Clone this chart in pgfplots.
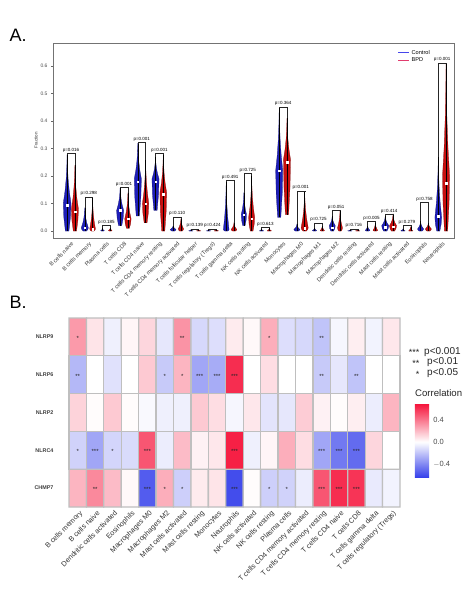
\documentclass[border=0pt]{standalone}
\usepackage{fontspec}
\setmainfont{Liberation Sans}
\usepackage{pgfplots}
\usepackage{pgfplotstable}
\pgfplotsset{compat=1.18}
\definecolor{ctrl}{RGB}{30,30,185}
\definecolor{bpd}{RGB}{200,15,15}
\definecolor{ctrlleg}{RGB}{70,70,235}
\definecolor{bpdleg}{RGB}{225,60,110}
\newcommand\fs[1]{\fontsize{#1}{#1}\selectfont}

% violin: xc, bottom, mode, top, halfwidth, colour
\newcommand\violin[6]{%
 \pgfmathsetmacro\vyA{#2+0.5*(#3-#2)}%
 \pgfmathsetmacro\vyB{#3+0.25*(#4-#3)}%
 \pgfmathsetmacro\vyC{#3+0.5*(#4-#3)}%
 \pgfmathsetmacro\vyD{#3+0.75*(#4-#3)}%
 \pgfmathsetmacro\vra{#1+0.45*#5}\pgfmathsetmacro\vla{#1-0.45*#5}%
 \pgfmathsetmacro\vrb{#1+0.85*#5}\pgfmathsetmacro\vlb{#1-0.85*#5}%
 \pgfmathsetmacro\vrc{#1+#5}\pgfmathsetmacro\vlc{#1-#5}%
 \pgfmathsetmacro\vrd{#1+0.55*#5}\pgfmathsetmacro\vld{#1-0.55*#5}%
 \pgfmathsetmacro\vre{#1+0.25*#5}\pgfmathsetmacro\vle{#1-0.25*#5}%
 \pgfmathsetmacro\vrf{#1+0.08*#5}\pgfmathsetmacro\vlf{#1-0.08*#5}%
 \edef\vtmp{\noexpand\addplot[forget plot, fill=#6, draw=#6!60!black, line width=0.25pt] coordinates {(\vla,#2) (\vra,#2) (\vrb,\vyA) (\vrc,#3) (\vrd,\vyB) (\vre,\vyC) (\vrf,\vyD) (#1,#4) (\vlf,\vyD) (\vle,\vyC) (\vld,\vyB) (\vlc,#3) (\vlb,\vyA) (\vla,#2)};
 \noexpand\addplot[forget plot, black, line width=0.35pt] coordinates {(#1,#2) (#1,#4)};}%
 \vtmp
}
% bracket: x, height, top of control, top of BPD
\newcommand\bracket[4]{%
 \pgfmathsetmacro\bl{#1-0.22}\pgfmathsetmacro\br{#1+0.22}%
 \edef\btmp{\noexpand\addplot[forget plot, black!85, line width=0.3pt] coordinates {(\bl,#3) (\bl,#2) (\br,#2) (\br,#4)};}\btmp}

\pgfplotstableread{
x y s
0 0.282 p=0.016
1 0.125 p=0.298
2 0.020 p=0.185
3 0.160 p=0.001
4 0.322 p=0.001
5 0.282 p=0.001
6 0.052 p=0.110
7 0.008 p=0.139
8 0.008 p=0.424
9 0.185 p=0.491
10 0.210 p=0.725
11 0.015 p=0.613
12 0.452 p=0.364
13 0.147 p=0.001
14 0.030 p=0.725
15 0.077 p=0.051
16 0.008 p=0.716
17 0.035 p=0.005
18 0.062 p=0.414
19 0.020 p=0.279
20 0.105 p=0.758
21 0.612 p=0.001
}\ptab

\pgfplotstableread{
x y
-0.22 0.095
0.78 0.012
2.78 0.075
3.78 0.180
4.78 0.180
9.78 0.060
11.78 0.220
14.78 0.012
17.78 0.015
20.78 0.055
0.22 0.070
1.22 0.008
3.22 0.045
4.22 0.100
5.22 0.135
10.22 0.045
12.22 0.250
13.22 0.010
18.22 0.016
21.22 0.175
}\medtab

\pgfplotstableread{
x y c
0 0 0.30
1 0 0.08
2 0 -0.05
3 0 0.03
4 0 0.12
5 0 -0.08
6 0 0.32
7 0 -0.13
8 0 -0.11
9 0 0.06
10 0 0.02
11 0 0.24
12 0 -0.11
13 0 -0.13
14 0 -0.20
15 0 -0.03
16 0 0.05
17 0 -0.04
18 0 0.07
0 1 -0.24
1 1 0.00
2 1 -0.10
3 1 0.00
4 1 0.16
5 1 -0.18
6 1 0.22
7 1 -0.30
8 1 -0.28
9 1 0.62
10 1 0.00
11 1 0.10
12 1 0.00
13 1 0.00
14 1 -0.18
15 1 -0.08
16 1 -0.20
17 1 0.00
18 1 0.00
0 2 0.13
1 2 0.01
2 2 0.16
3 2 0.01
4 2 -0.02
5 2 -0.05
6 2 -0.05
7 2 0.16
8 2 0.10
9 2 -0.03
10 2 0.07
11 2 -0.09
12 2 -0.08
13 2 0.15
14 2 0.04
15 2 0.01
16 2 0.05
17 2 -0.06
18 2 0.22
0 3 -0.15
1 3 -0.30
2 3 -0.14
3 3 -0.12
4 3 0.50
5 3 -0.06
6 3 0.20
7 3 0.04
8 3 0.07
9 3 0.66
10 3 -0.05
11 3 0.03
12 3 0.24
13 3 0.10
14 3 -0.30
15 3 -0.45
16 3 -0.50
17 3 0.12
18 3 0.00
0 4 0.22
1 4 0.35
2 4 0.20
3 4 0.02
4 4 -0.55
5 4 0.24
6 4 -0.16
7 4 0.06
8 4 0.08
9 4 -0.60
10 4 0.01
11 4 -0.16
12 4 -0.15
13 4 -0.06
14 4 0.50
15 4 0.62
16 4 0.60
17 4 -0.07
18 4 -0.04
}\heat

\pgfplotstableread{
x y s
0 0 *
6 0 **
11 0 *
14 0 **
0 1 **
5 1 *
6 1 *
7 1 ***
8 1 ***
9 1 ***
14 1 **
16 1 **
0 3 *
1 3 ***
2 3 *
4 3 ***
9 3 ***
14 3 ***
15 3 ***
16 3 ***
1 4 **
4 4 ***
5 4 *
6 4 *
9 4 ***
11 4 *
12 4 *
14 4 ***
15 4 ***
16 4 ***
}\stars

\begin{document}
\begin{tikzpicture}
\useasboundingbox[fill=white] (0,0) rectangle (474pt,-601pt);
\node[anchor=west, font=\fs{18}] at (6pt,-35pt) {A.};
\node[anchor=west, font=\fs{18}] at (6pt,-302pt) {B.};

% ---------------- Panel A ----------------
\begin{axis}[
 at={(53pt,-238pt)}, anchor=south west,
 scale only axis, width=401pt, height=195pt,
 xmin=-1.02, xmax=21.67, ymin=-0.025, ymax=0.684,
 axis line style={black!55, line width=0.6pt},
 xtick={0,...,21},
 xticklabels={B cells naive, B cells memory, Plasma cells, T cells CD8, T cells CD4 naive, T cells CD4 memory resting, T cells CD4 memory activated, T cells follicular helper, T cells regulatory (Tregs), T cells gamma delta, NK cells resting, NK cells activated, Monocytes, Macrophages M0, Macrophages M1, Macrophages M2, Dendritic cells resting, Dendritic cells activated, Mast cells resting, Mast cells activated, Eosinophils, Neutrophils},
 xticklabel style={rotate=45, anchor=north east, font=\fs{5.6}, text=black!80, inner sep=1pt},
 xtick style={draw=none},
 ytick={0,0.1,...,0.6},
 yticklabel style={font=\fs{5}, text=black!70, /pgf/number format/.cd, fixed, precision=1, zerofill},
 /pgf/number format/assume math mode=true,
 ytick style={black!60, line width=0.4pt}, tick align=outside, major tick length=2pt,
 ytick pos=left,
 ylabel={Fraction}, ylabel style={font=\fs{4.5}, text=black!80, yshift=-4pt},
 legend style={at={(0.945,0.975)}, anchor=north east, draw=none, fill=none, font=\fs{5.6}, inner sep=0pt, row sep=-1.5pt},
 legend cell align=left,
 legend image code/.code={\draw[line width=1pt, #1] (0pt,0pt) -- (11pt,0pt);},
 clip=false,
]
\addlegendimage{draw=ctrlleg}\addlegendentry{Control}
\addlegendimage{draw=bpdleg}\addlegendentry{BPD}

\violin{-0.22}{0}{0.10}{0.28}{0.22}{ctrl}
\violin{0.22}{0}{0.08}{0.24}{0.20}{bpd}
\violin{0.78}{0}{0.012}{0.085}{0.20}{ctrl}
\violin{1.22}{0}{0.008}{0.12}{0.16}{bpd}
\violin{1.78}{0}{0.002}{0.010}{0.10}{ctrl}
\violin{2.22}{0}{0.002}{0.012}{0.10}{bpd}
\violin{2.78}{0.02}{0.075}{0.16}{0.20}{ctrl}
\violin{3.22}{0.01}{0.045}{0.14}{0.18}{bpd}
\violin{3.78}{0.055}{0.19}{0.32}{0.20}{ctrl}
\violin{4.22}{0.03}{0.10}{0.26}{0.18}{bpd}
\violin{4.78}{0.075}{0.19}{0.27}{0.20}{ctrl}
\violin{5.22}{0}{0.14}{0.28}{0.19}{bpd}
\violin{5.78}{0}{0.006}{0.02}{0.16}{ctrl}
\violin{6.22}{0}{0.008}{0.045}{0.15}{bpd}
\violin{6.78}{0}{0.001}{0.005}{0.12}{ctrl}
\violin{7.22}{0}{0.001}{0.005}{0.12}{bpd}
\violin{7.78}{0}{0.001}{0.004}{0.12}{ctrl}
\violin{8.22}{0}{0.001}{0.006}{0.12}{bpd}
\violin{8.78}{0}{0.006}{0.18}{0.16}{ctrl}
\violin{9.22}{0}{0.006}{0.03}{0.16}{bpd}
\violin{9.78}{0.02}{0.06}{0.14}{0.15}{ctrl}
\violin{10.22}{0}{0.05}{0.20}{0.17}{bpd}
\violin{10.78}{0}{0.001}{0.008}{0.12}{ctrl}
\violin{11.22}{0}{0.001}{0.010}{0.12}{bpd}
\violin{11.78}{0.05}{0.22}{0.45}{0.20}{ctrl}
\violin{12.22}{0.06}{0.26}{0.41}{0.20}{bpd}
\violin{12.78}{0}{0.006}{0.025}{0.17}{ctrl}
\violin{13.22}{0}{0.012}{0.145}{0.20}{bpd}
\violin{13.78}{0}{0.002}{0.012}{0.12}{ctrl}
\violin{14.22}{0}{0.002}{0.020}{0.12}{bpd}
\violin{14.78}{0}{0.02}{0.055}{0.17}{ctrl}
\violin{15.22}{0}{0.012}{0.075}{0.14}{bpd}
\violin{15.78}{0}{0.001}{0.004}{0.12}{ctrl}
\violin{16.22}{0}{0.001}{0.004}{0.12}{bpd}
\violin{16.78}{0}{0.003}{0.02}{0.13}{ctrl}
\violin{17.22}{0}{0.003}{0.03}{0.13}{bpd}
\violin{17.78}{0}{0.02}{0.055}{0.20}{ctrl}
\violin{18.22}{0}{0.02}{0.06}{0.20}{bpd}
\violin{18.78}{0}{0.001}{0.008}{0.12}{ctrl}
\violin{19.22}{0}{0.001}{0.015}{0.12}{bpd}
\violin{19.78}{0}{0.008}{0.035}{0.17}{ctrl}
\violin{20.22}{0}{0.008}{0.03}{0.17}{bpd}
\violin{20.78}{0}{0.05}{0.27}{0.19}{ctrl}
\violin{21.22}{0}{0.20}{0.61}{0.20}{bpd}

\bracket{0}{0.282}{0.28}{0.24}
\bracket{1}{0.125}{0.085}{0.12}
\bracket{2}{0.020}{0.010}{0.012}
\bracket{3}{0.160}{0.16}{0.14}
\bracket{4}{0.322}{0.32}{0.26}
\bracket{5}{0.282}{0.27}{0.28}
\bracket{6}{0.052}{0.02}{0.045}
\bracket{7}{0.008}{0.005}{0.005}
\bracket{8}{0.008}{0.004}{0.006}
\bracket{9}{0.185}{0.18}{0.03}
\bracket{10}{0.210}{0.14}{0.20}
\bracket{11}{0.015}{0.008}{0.010}
\bracket{12}{0.452}{0.45}{0.41}
\bracket{13}{0.147}{0.025}{0.145}
\bracket{14}{0.030}{0.012}{0.020}
\bracket{15}{0.077}{0.055}{0.075}
\bracket{16}{0.008}{0.004}{0.004}
\bracket{17}{0.035}{0.02}{0.03}
\bracket{18}{0.062}{0.055}{0.06}
\bracket{19}{0.020}{0.008}{0.015}
\bracket{20}{0.105}{0.035}{0.03}
\bracket{21}{0.612}{0.27}{0.61}

\addplot[forget plot, only marks, mark=square*, mark size=0.8pt, white] table {\medtab};
\addplot[forget plot, draw=none, mark=none, nodes near coords, point meta=explicit symbolic,
 nodes near coords style={font=\fs{4.5}, text=black, inner sep=0.8pt, anchor=south}] table[meta=s] {\ptab};
\end{axis}

% ---------------- Panel B ----------------
\begin{axis}[
 at={(69pt,-507pt)}, anchor=south west,
 scale only axis, width=331pt, height=189pt,
 xmin=-0.5, xmax=18.5, ymin=-0.5, ymax=4.5, y dir=reverse,
 enlargelimits=false,
 axis line style={draw=none}, tick style={draw=none},
 xtick={0,...,18},
 xticklabels={B cells memory, B cells naive, Dendritic cells activated, Eosinophils, Macrophages M0, Macrophages M2, Mast cells activated, Mast cells resting, Monocytes, Neutrophils, NK cells activated, NK cells resting, Plasma cells, T cells CD4 memory activated, T cells CD4 memory resting, T cells CD4 naive, T cells CD8, T cells gamma delta, T cells regulatory (Tregs)},
 xticklabel style={rotate=45, anchor=north east, font=\fs{7.2}, text=black!80, inner sep=1pt, yshift=-2pt},
 ytick={0,...,4},
 yticklabels={NLRP9, NLRP6, NLRP2, NLRC4, CHMP7},
 yticklabel style={font=\fs{5.4}\bfseries, text=black!75, xshift=-12pt},
 colormap={corr}{rgb255(0)=(55,65,235); rgb255(64)=(255,255,255); rgb255(135)=(245,15,55)},
 point meta min=-0.64, point meta max=0.71,
 colorbar,
 colorbar style={
   at={(1.045,0.55)}, anchor=north west,
   scale only axis, width=15pt, height=74pt,
   axis line style={draw=none}, tick style={draw=none},
   ytick={-0.4,0,0.4}, yticklabels={$-$0.4, 0.0, 0.4},
   yticklabel style={font=\fs{7.5}, text=black!70},
 },
 clip=false,
]
\addplot[matrix plot*, mesh/cols=19, point meta=explicit, draw=black!25, line width=1.3pt] table[meta=c] {\heat};
\addplot[draw=none, mark=none, nodes near coords, point meta=explicit symbolic,
 nodes near coords style={font=\fs{6}, text=black!85, inner sep=0pt, anchor=center, yshift=-1.3pt}] table[meta=s] {\stars};
\end{axis}

% significance legend and colourbar title
\node[anchor=east, font=\fs{9}, text=black!85] at (423pt,-352pt) {***};
\node[anchor=east, font=\fs{9}, text=black!85] at (423pt,-363pt) {**};
\node[anchor=east, font=\fs{9}, text=black!85] at (423pt,-374pt) {*};
\node[anchor=west, font=\fs{10}, text=black!85, inner sep=0pt] at (424pt,-352pt) {p<0.001};
\node[anchor=west, font=\fs{10}, text=black!85, inner sep=0pt] at (427pt,-362pt) {p<0.01};
\node[anchor=west, font=\fs{10}, text=black!85, inner sep=0pt] at (427pt,-373pt) {p<0.05};
\node[anchor=west, font=\fs{9.6}, text=black!85, inner sep=0pt] at (415pt,-393pt) {Correlation};
\end{tikzpicture}
\end{document}
